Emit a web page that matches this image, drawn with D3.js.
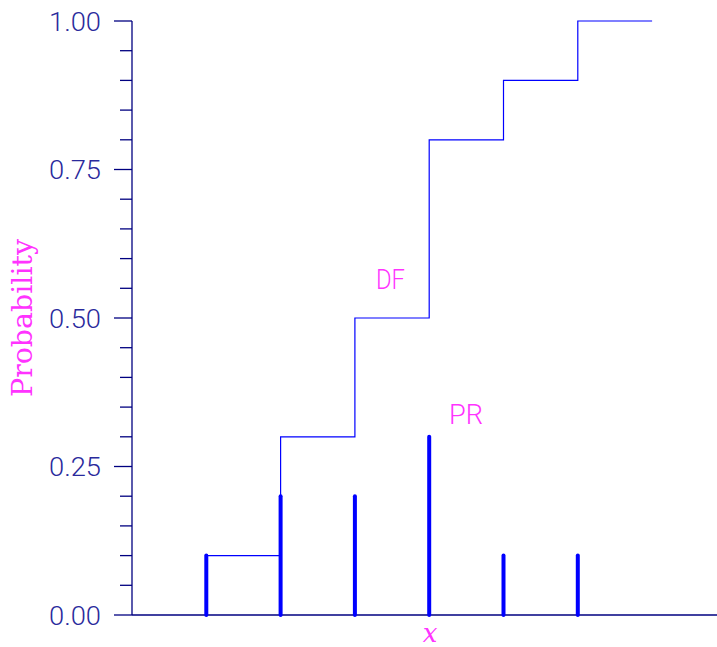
<!DOCTYPE html>
<html><head><meta charset="utf-8">
<script src="https://cdn.jsdelivr.net/npm/d3@7"></script>
<style>body{margin:0;background:#fff}</style>
</head><body>
<script>
const xs = [1, 2, 3, 4, 5, 6];
const pr = [0.1, 0.2, 0.2, 0.3, 0.1, 0.1];
const df = [0.1, 0.3, 0.5, 0.8, 0.9, 1.0];
const yTicks = [0, 0.25, 0.5, 0.75, 1.0];
const yTickLabels = ["0.00", "0.25", "0.50", "0.75", "1.00"];

const W = 717, H = 647;
const svg = d3.select("body").append("svg").attr("width", W).attr("height", H);
const x = d3.scaleLinear().domain([0, 8]).range([132, 132 + 8 * 74.3]);
const y = d3.scaleLinear().domain([0, 1]).range([615, 21]);
const axisColor = "#000080";

// axes lines
svg.append("line").attr("x1", 132).attr("x2", W).attr("y1", y(0)).attr("y2", y(0))
  .attr("stroke", axisColor).attr("stroke-width", 1.3);
svg.append("line").attr("x1", 132).attr("x2", 132).attr("y1", y(0)).attr("y2", y(1))
  .attr("stroke", axisColor).attr("stroke-width", 1.3);

// minor ticks
const minor = d3.range(0, 21).map(i => i * 0.05).filter(v => Math.abs(v * 4 - Math.round(v * 4)) > 1e-6);
svg.selectAll(".minor").data(minor).enter().append("line")
  .attr("x1", 120).attr("x2", 132).attr("y1", d => y(d)).attr("y2", d => y(d))
  .attr("stroke", axisColor).attr("stroke-width", 1.3);
// major ticks
svg.selectAll(".major").data(yTicks).enter().append("line")
  .attr("x1", 114).attr("x2", 132).attr("y1", d => y(d)).attr("y2", d => y(d))
  .attr("stroke", axisColor).attr("stroke-width", 1.3);
svg.selectAll(".tl").data(yTicks).enter().append("text")
  .attr("x", 101).attr("y", d => y(d) + 9.5)
  .attr("text-anchor", "end").attr("fill", "#2a2a9c")
  .style("font-family", "Roboto, Liberation Sans, sans-serif").style("font-size", "26px")
  .style("font-weight", "300")
  .attr("textLength", 52).attr("lengthAdjust", "spacingAndGlyphs")
  .text((d, i) => yTickLabels[i]);

// DF step line
const pts = [];
xs.forEach((v, i) => {
  pts.push([v, df[i]]);
  pts.push([v + 1, df[i]]);
});
const line = d3.line().x(d => x(d[0])).y(d => y(d[1])).curve(d3.curveLinear);
svg.append("path").datum(pts).attr("d", line).attr("fill", "none")
  .attr("stroke", "#0000ff").attr("stroke-width", 1.2);

// PR bars
svg.selectAll(".bar").data(xs).enter().append("line")
  .attr("x1", d => x(d)).attr("x2", d => x(d))
  .attr("y1", y(0)).attr("y2", (d, i) => y(pr[i]))
  .attr("stroke", "#0000ff").attr("stroke-width", 4).attr("stroke-linecap", "round");

// labels
svg.append("text").attr("x", 376).attr("y", 289)
  .attr("fill", "#ff33ff").style("font-family", "Roboto, Liberation Sans, sans-serif")
  .style("font-weight", "300")
  .style("font-size", "27px").attr("textLength", 29).attr("lengthAdjust", "spacingAndGlyphs").text("DF");
svg.append("text").attr("x", 449).attr("y", 424)
  .attr("fill", "#ff33ff").style("font-family", "Roboto, Liberation Sans, sans-serif")
  .style("font-weight", "300")
  .style("font-size", "27px").attr("textLength", 34).attr("lengthAdjust", "spacingAndGlyphs").text("PR");
svg.append("text").attr("transform", "translate(32,318) rotate(-90)")
  .attr("text-anchor", "middle").attr("fill", "#ff33ff")
  .style("font-family", "DejaVu Serif, serif").style("font-size", "27px")
  .attr("textLength", 158).attr("lengthAdjust", "spacingAndGlyphs").text("Probability");
svg.append("text").attr("x", 430).attr("y", 642).attr("text-anchor", "middle")
  .attr("fill", "#ff33ff").style("font-family", "DejaVu Serif, serif")
  .style("font-style", "italic").style("font-size", "26px").text("x");
</script>
</body></html>
